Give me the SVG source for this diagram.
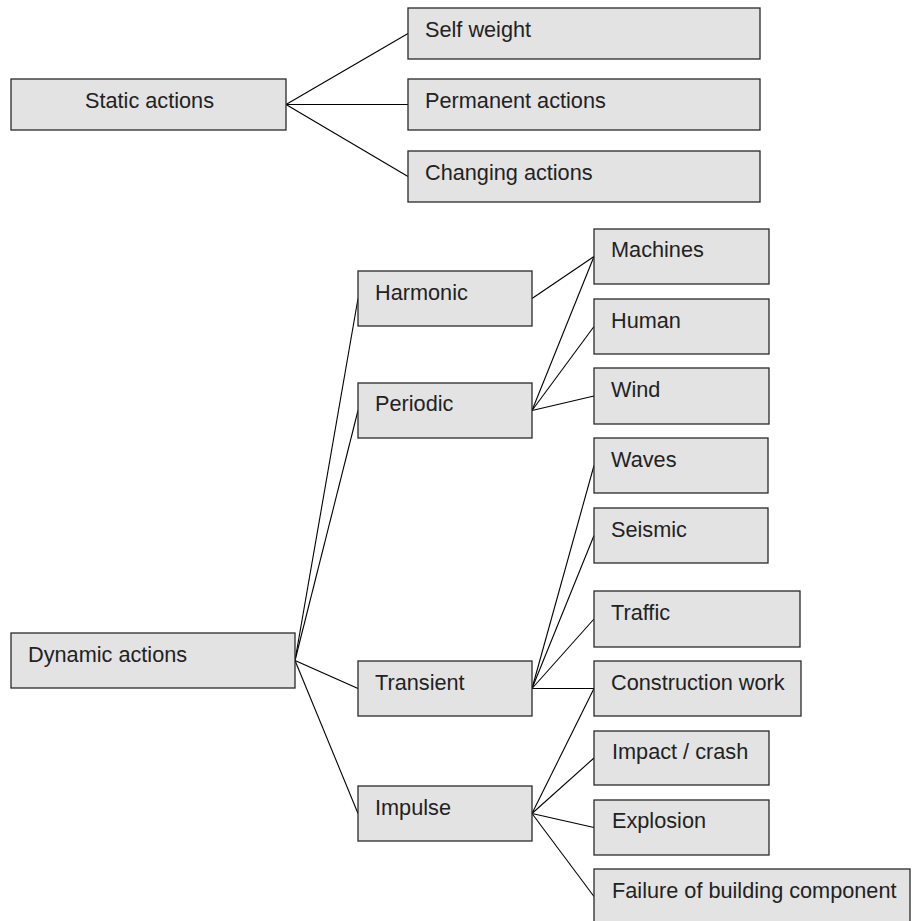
<svg xmlns="http://www.w3.org/2000/svg" width="913" height="921" viewBox="0 0 913 921">
<style>
.box rect{fill:#e3e3e3;stroke:#2a2a2a;stroke-width:1.3}
.box text{font-family:"Liberation Sans",Arial,sans-serif;font-size:21.7px;fill:#222}
#connectors line{stroke:#000;stroke-width:1.1}
</style>
<rect width="913" height="921" fill="#fff"/>
<g id="connectors">
<line x1="286" y1="104.5" x2="408" y2="33.5"/>
<line x1="286" y1="104.5" x2="408" y2="104.5"/>
<line x1="286" y1="104.5" x2="408" y2="176.5"/>
<line x1="295" y1="660.5" x2="358" y2="298.5"/>
<line x1="295" y1="660.5" x2="358" y2="410.5"/>
<line x1="295" y1="660.5" x2="358" y2="688.5"/>
<line x1="295" y1="660.5" x2="358" y2="813.5"/>
<line x1="532" y1="298.5" x2="594" y2="256.5"/>
<line x1="532" y1="410.5" x2="594" y2="256.5"/>
<line x1="532" y1="410.5" x2="594" y2="326.5"/>
<line x1="532" y1="410.5" x2="594" y2="396"/>
<line x1="532" y1="688.5" x2="594" y2="465.5"/>
<line x1="532" y1="688.5" x2="594" y2="535.5"/>
<line x1="532" y1="688.5" x2="594" y2="619"/>
<line x1="532" y1="688.5" x2="594" y2="688.5"/>
<line x1="532" y1="813.5" x2="594" y2="688.5"/>
<line x1="532" y1="813.5" x2="594" y2="758"/>
<line x1="532" y1="813.5" x2="594" y2="827.5"/>
<line x1="532" y1="813.5" x2="594" y2="896.5"/>
</g>
<g id="static" class="box"><rect x="11" y="79" width="275" height="51"/><text x="85" y="108">Static actions</text></g>
<g id="selfweight" class="box"><rect x="408" y="8" width="352" height="51"/><text x="425" y="37">Self weight</text></g>
<g id="permanent" class="box"><rect x="408" y="79" width="352" height="51"/><text x="425" y="108">Permanent actions</text></g>
<g id="changing" class="box"><rect x="408" y="151" width="352" height="51"/><text x="425" y="180">Changing actions</text></g>
<g id="harmonic" class="box"><rect x="358" y="271" width="174" height="55"/><text x="375" y="300">Harmonic</text></g>
<g id="periodic" class="box"><rect x="358" y="383" width="174" height="55"/><text x="375" y="411">Periodic</text></g>
<g id="machines" class="box"><rect x="594" y="229" width="175" height="55"/><text x="611" y="257">Machines</text></g>
<g id="human" class="box"><rect x="594" y="299" width="175" height="55"/><text x="611" y="328">Human</text></g>
<g id="wind" class="box"><rect x="594" y="368" width="175" height="56"/><text x="611" y="397">Wind</text></g>
<g id="waves" class="box"><rect x="594" y="438" width="174" height="55"/><text x="611" y="467">Waves</text></g>
<g id="seismic" class="box"><rect x="594" y="508" width="174" height="55"/><text x="611" y="537">Seismic</text></g>
<g id="traffic" class="box"><rect x="594" y="591" width="206" height="56"/><text x="611" y="620">Traffic</text></g>
<g id="construction" class="box"><rect x="594" y="661" width="207" height="55"/><text x="611" y="690">Construction work</text></g>
<g id="dynamic" class="box"><rect x="11" y="633" width="284" height="55"/><text x="28" y="662">Dynamic actions</text></g>
<g id="transient" class="box"><rect x="358" y="661" width="174" height="55"/><text x="375" y="690">Transient</text></g>
<g id="impulse" class="box"><rect x="358" y="786" width="174" height="55"/><text x="375" y="815">Impulse</text></g>
<g id="impact" class="box"><rect x="594" y="731" width="175" height="54"/><text x="612" y="759">Impact / crash</text></g>
<g id="explosion" class="box"><rect x="594" y="800" width="175" height="55"/><text x="612" y="828">Explosion</text></g>
<g id="failure" class="box"><rect x="594" y="869" width="316" height="55"/><text x="612" y="898">Failure of building component</text></g>
</svg>
